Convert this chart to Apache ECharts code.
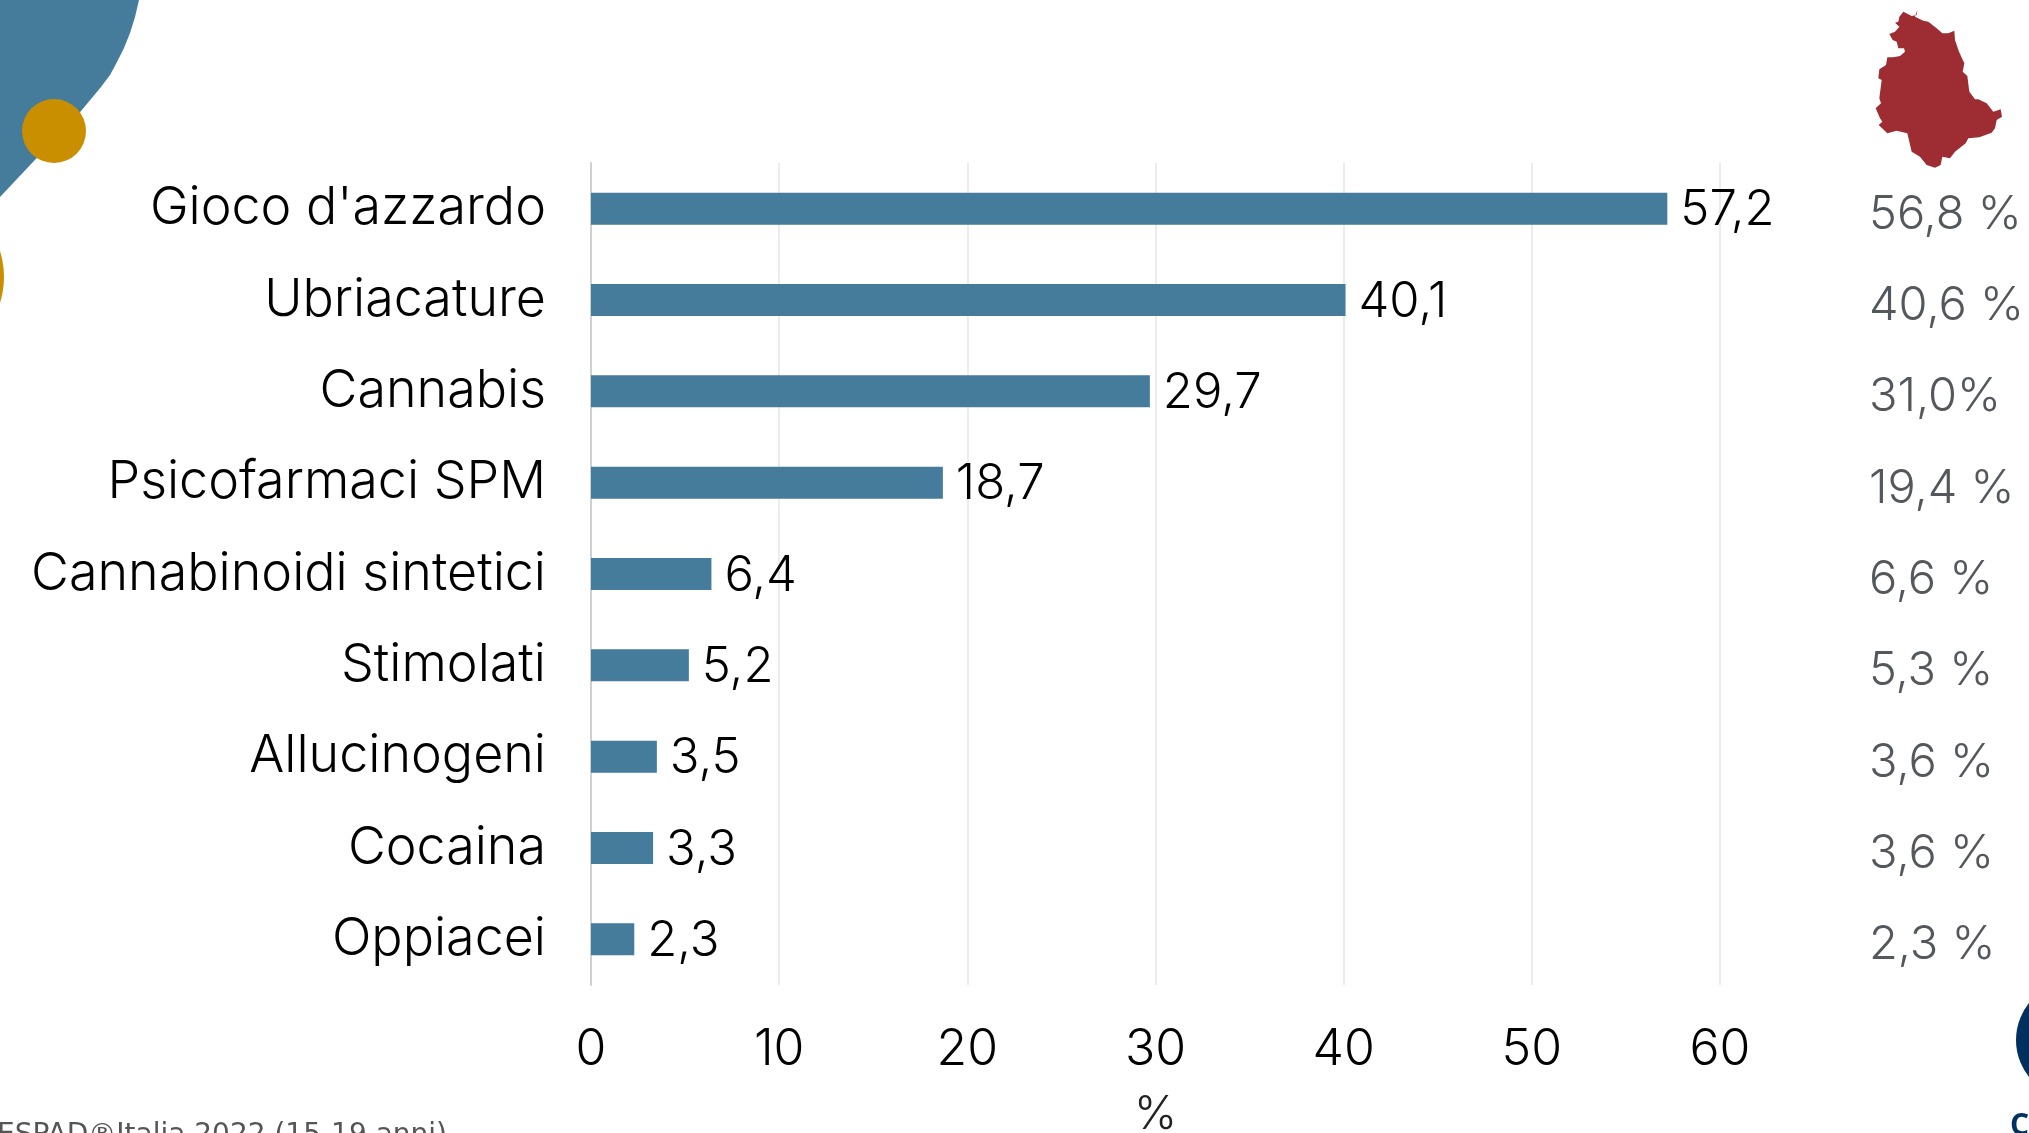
<!DOCTYPE html>
<html>
<head>
<meta charset="utf-8">
<title>Consumi</title>
<script src="https://cdn.jsdelivr.net/npm/echarts@6/dist/echarts.min.js"></script>
<style>
html, body { margin: 0; padding: 0; background: #fff; overflow: hidden; }
#chart { width: 2029px; height: 1133px; }
</style>
</head>
<body>
<div id="chart"></div>
<script>
var categories = ["Gioco d'azzardo", "Ubriacature", "Cannabis", "Psicofarmaci SPM", "Cannabinoidi sintetici", "Stimolati", "Allucinogeni", "Cocaina", "Oppiacei"];
var values = [57.2, 40.1, 29.7, 18.7, 6.4, 5.2, 3.5, 3.3, 2.3];
var italyLabels = ["56,8 %", "40,6 %", "31,0%", "19,4 %", "6,6 %", "5,3 %", "3,6 %", "3,6 %", "2,3 %"];

// sagoma dell'Umbria, ricalcata a mano (coordinate x3)
var umbria = [[412,30],[410,45],[395,48],[370,35],[358,50],[355,65],[345,68],[358,80],[345,95],[328,102],[338,120],[350,125],[355,145],[372,145],[375,155],[360,168],[340,172],[322,172],[318,195],[298,208],[295,235],[305,240],[298,295],[303,310],[287,325],[300,355],[307,365],[296,375],[322,400],[350,392],[382,400],[395,455],[420,470],[440,495],[465,503],[482,495],[487,470],[510,475],[525,455],[557,430],[565,415],[598,412],[635,398],[645,385],[650,360],[666,350],[662,328],[640,335],[620,310],[595,298],[585,298],[568,275],[562,228],[548,215],[553,190],[537,155],[525,120],[523,92],[505,100],[487,100],[470,85],[445,65],[430,62],[405,50]];
// forma blu in alto a sinistra
var corner = [[0,0],[139,0],[135,17],[130,33],[124,48],[117,62],[110,75],[101,87],[91,99],[81,111],[0,197]];

var chart = echarts.init(document.getElementById('chart'));
var font = 'Inter';

var option = {
	backgroundColor: '#fff',
	animation: false,
	grid: { left: 591, right: 309, top: 163, bottom: 148, outerBoundsMode: 'none' },
	xAxis: {
		type: 'value',
		min: 0,
		max: 60,
		interval: 10,
		name: '%',
		nameLocation: 'middle',
		nameGap: 107,
		nameTextStyle: { color: '#222', fontSize: 46, fontFamily: font, fontWeight: 300 },
		axisLine: { show: false },
		axisTick: { show: false },
		axisLabel: { color: '#000', fontSize: 50, fontFamily: font, fontWeight: 300, margin: 40 },
		splitLine: { lineStyle: { color: '#e6e6e6', width: 1.5 } }
	},
	yAxis: [
		{
			type: 'category',
			inverse: true,
			data: categories,
			axisLine: { lineStyle: { color: '#d0d0d0', width: 2 } },
			axisTick: { show: false },
			axisLabel: { color: '#000', fontSize: 52, fontFamily: font, fontWeight: 300, margin: 45 }
		},
		{
			type: 'category',
			inverse: true,
			position: 'right',
			data: italyLabels,
			axisLine: { show: false },
			axisTick: { show: false },
			axisLabel: { color: '#54585c', fontSize: 47, fontFamily: font, fontWeight: 300, margin: 149, align: 'left', verticalAlign: 'top', lineHeight: 12 }
		}
	],
	series: [{
		type: 'bar',
		data: values,
		barWidth: 32,
		itemStyle: { color: '#457b9b' },
		label: {
			show: true,
			position: 'right',
			distance: 13,
			offset: [0, 2],
			color: '#000',
			fontSize: 49,
			fontFamily: font,
			fontWeight: 300,
			formatter: function (p) { return String(p.value).replace('.', ','); }
		}
	}],
	graphic: [
		{ type: 'polygon', shape: { points: corner }, style: { fill: '#457b9b' } },
		{ type: 'circle', shape: { cx: 54, cy: 131, r: 32 }, style: { fill: '#c98f00' } },
		{ type: 'circle', shape: { cx: -82, cy: 277, r: 86 }, style: { fill: '#c98f00' } },
		{ type: 'polygon', x: 1780, y: 0, scaleX: 1 / 3, scaleY: 1 / 3, shape: { points: umbria }, style: { fill: '#9e2d33' } },
		{ type: 'ring', shape: { cx: 2075, cy: 1040, r: 59, r0: 46 }, style: { fill: '#00305f' } },
		{ type: 'text', x: 2010, y: 1111, style: { text: 'C', fill: '#00305f', font: 'bold 30px "Open Sans"' } },
		{ type: 'text', x: -3, y: 1122, style: { text: 'ESPAD®Italia 2022 (15-19 anni)', fill: '#555', font: '28px "DejaVu Sans"' } }
	]
};
chart.setOption(option);
</script>
</body>
</html>
